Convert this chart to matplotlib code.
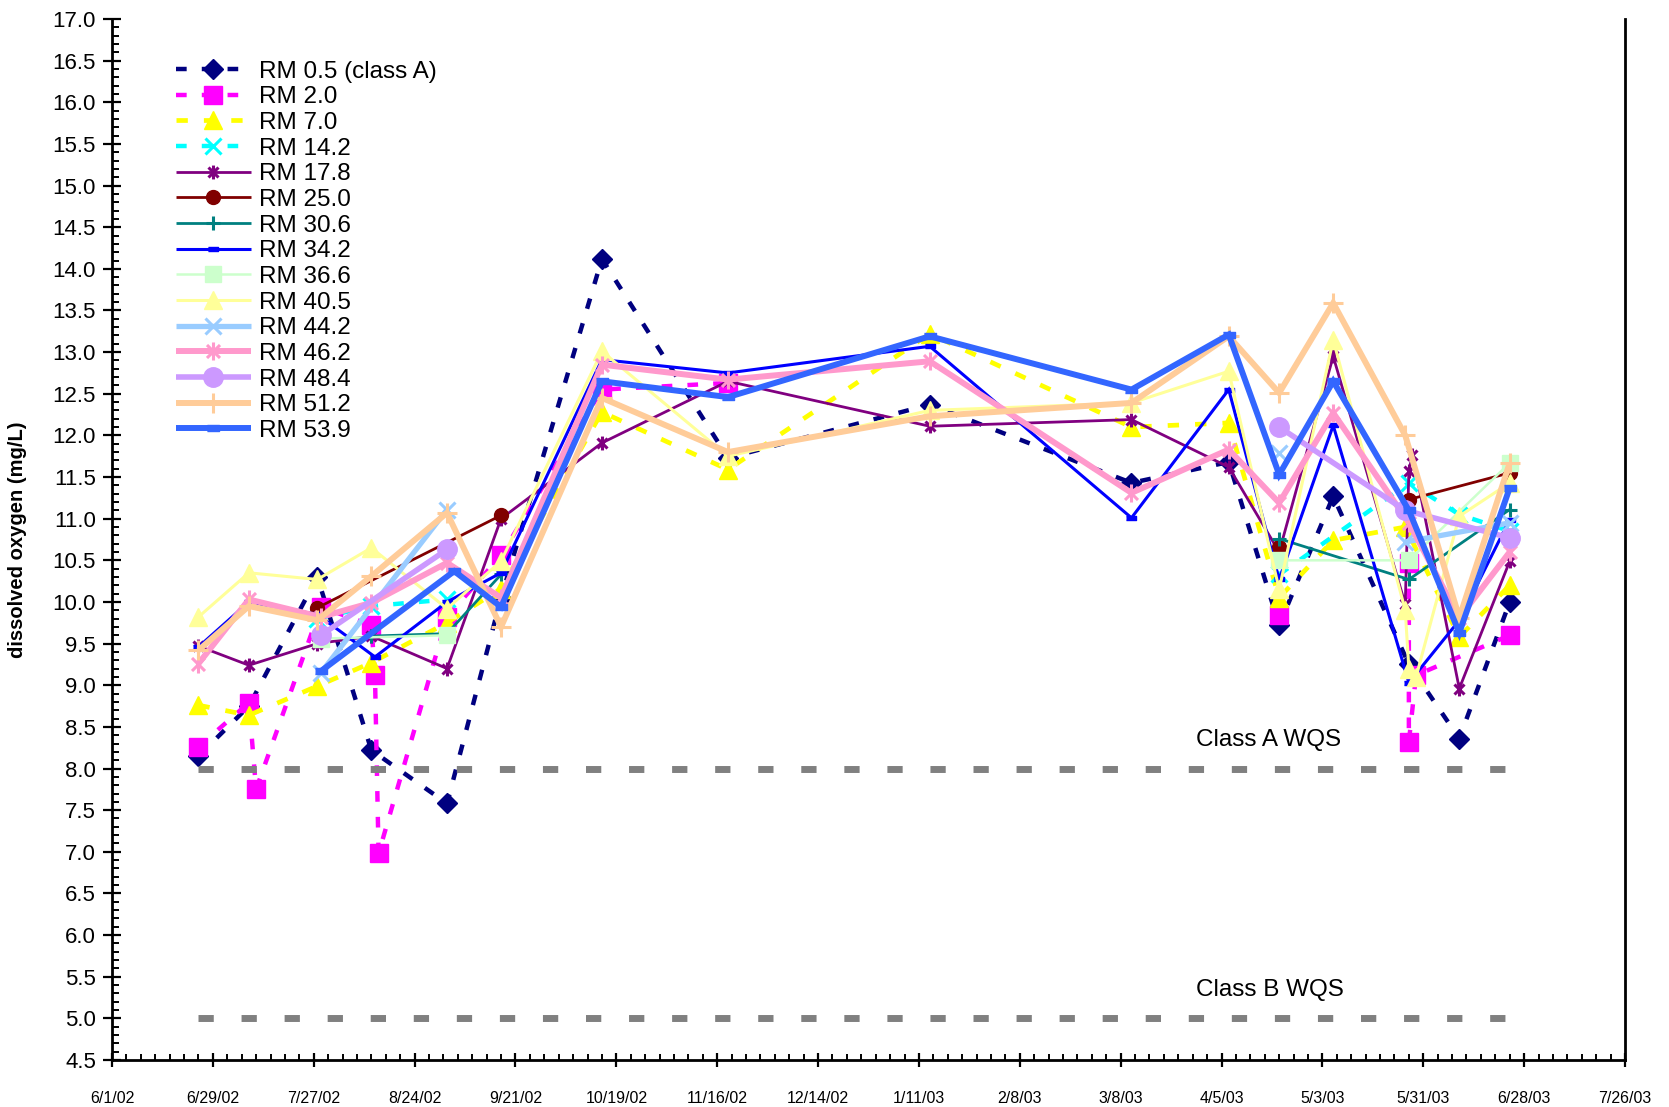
from datetime import datetime

import matplotlib
matplotlib.use("Agg")
import matplotlib.pyplot as plt
import matplotlib.dates as mdates
from matplotlib import font_manager
from matplotlib.path import Path
from matplotlib.ticker import FixedLocator, FuncFormatter, MultipleLocator
import numpy as np
import pandas as pd

# dissolved oxygen readings (mg/L) by river mile, None = no sample (line break)
rm_0_5 = [("6/25/02", 8.15), ("7/9/02", 8.75), ("7/28/02", 10.3), ("8/12/02", 8.22),
          ("9/2/02", 7.58), ("9/17/02", 10.05), ("10/15/02", 14.12), ("11/19/02", 11.73),
          ("1/14/03", 12.37), ("3/11/03", 11.43), ("4/7/03", 11.68), ("4/21/03", 9.72),
          ("5/6/03", 11.27), ("5/27/03", 9.25), ("6/10/03", 8.36), ("6/24/03", 10.0)]
rm_2_0 = [("6/25/02", 8.26), ("7/9/02", 8.79), ("7/11/02", 7.75), ("7/29/02", 9.94),
          ("8/12/02", 9.72), ("8/13/02", 9.12), ("8/14/02", 6.98), ("9/2/02", 9.82),
          ("9/17/02", 10.56), ("10/15/02", 12.55), ("11/19/02", 12.63), ("1/14/03", None),
          ("4/21/03", 9.84), ("5/6/03", None), ("5/27/03", 10.47), ("5/27/03", 8.32),
          ("5/29/03", 9.12), ("6/24/03", 9.6)]
rm_7_0 = [("6/25/02", 8.76), ("7/9/02", 8.64), ("7/28/02", 8.99), ("8/12/02", 9.27),
          ("9/2/02", 9.75), ("9/17/02", 10.16), ("10/15/02", 12.28), ("11/19/02", 11.59),
          ("1/14/03", 13.22), ("3/11/03", 12.1), ("4/7/03", 12.15), ("4/21/03", 10.05),
          ("5/6/03", 10.74), ("5/26/03", 10.9), ("6/10/03", 9.58), ("6/24/03", 10.2)]
rm_14_2 = [("7/28/02", 9.8), ("8/12/02", 9.95), ("9/2/02", 10.03), ("9/17/02", None),
           ("4/21/03", 10.33), ("5/27/03", 11.43), ("6/10/03", 11.05), ("6/24/03", 10.85)]
rm_17_8 = [("6/25/02", 9.47), ("7/9/02", 9.24), ("7/28/02", 9.5), ("8/12/02", 9.59),
           ("9/2/02", 9.2), ("9/17/02", 11.0), ("10/15/02", 11.91), ("11/19/02", 12.65),
           ("1/14/03", 12.11), ("3/11/03", 12.19), ("4/7/03", 11.62), ("4/21/03", 10.6),
           ("5/6/03", 12.95), ("5/26/03", 9.97), ("5/27/03", 11.57), ("5/28/03", 11.77),
           ("6/10/03", 8.96), ("6/24/03", 10.49)]
rm_25_0 = [("7/28/02", 9.93), ("9/17/02", 11.04), ("1/14/03", None), ("4/21/03", 10.66),
           ("5/6/03", None), ("5/27/03", 11.23), ("6/24/03", 11.55)]
rm_30_6 = [("8/12/02", 9.59), ("9/2/02", 9.62), ("9/17/02", 10.33), ("1/14/03", None),
           ("4/21/03", 10.76), ("5/27/03", 10.27), ("6/24/03", 11.11)]
rm_34_2 = [("6/25/02", 9.46), ("7/9/02", 10.0), ("7/28/02", 9.85), ("8/13/02", 9.34),
           ("9/2/02", 10.0), ("9/17/02", 10.35), ("10/15/02", 12.91), ("11/19/02", 12.75),
           ("1/14/03", 13.07), ("3/11/03", 11.01), ("4/7/03", 12.55), ("4/21/03", 10.27),
           ("5/6/03", 12.12), ("5/27/03", 9.03), ("6/10/03", 9.78), ("6/24/03", 10.99)]
rm_36_6 = [("7/29/02", 9.56), ("9/2/02", 9.6), ("1/14/03", None), ("4/21/03", 10.5),
           ("5/27/03", 10.5), ("6/24/03", 11.67)]
rm_40_5 = [("6/25/02", 9.82), ("7/9/02", 10.35), ("7/28/02", 10.27), ("8/12/02", 10.65),
           ("9/2/02", 9.92), ("9/17/02", 10.49), ("10/15/02", 13.01), ("11/19/02", 11.75),
           ("1/14/03", 12.3), ("3/11/03", 12.39), ("4/7/03", 12.77), ("4/21/03", 10.15),
           ("5/6/03", 13.15), ("5/26/03", 9.9), ("5/27/03", 9.2), ("5/29/03", 9.1),
           ("6/10/03", 11.03), ("6/24/03", 11.43)]
rm_44_2 = [("7/29/02", 9.15), ("9/2/02", 11.11), ("1/14/03", None), ("4/21/03", 11.79),
           ("5/6/03", None), ("5/26/03", 10.72), ("6/24/03", 10.95)]
rm_46_2 = [("6/25/02", 9.26), ("7/9/02", 10.03), ("7/29/02", 9.82), ("8/12/02", 9.99),
           ("9/2/02", 10.47), ("9/17/02", 10.05), ("10/15/02", 12.85), ("11/19/02", 12.67),
           ("1/14/03", 12.89), ("3/11/03", 11.31), ("4/7/03", 11.83), ("4/21/03", 11.19),
           ("5/6/03", 12.27), ("5/27/03", 10.95), ("6/10/03", 9.81), ("6/24/03", 10.6)]
rm_48_4 = [("7/29/02", 9.6), ("9/2/02", 10.63), ("1/14/03", None), ("4/21/03", 12.1),
           ("5/26/03", 11.1), ("6/24/03", 10.77)]
rm_51_2 = [("6/25/02", 9.42), ("7/9/02", 9.95), ("7/28/02", 9.78), ("8/12/02", 10.31),
           ("9/2/02", 11.07), ("9/17/02", 9.7), ("10/15/02", 12.45), ("11/19/02", 11.8),
           ("1/14/03", 12.23), ("3/11/03", 12.39), ("4/7/03", 13.19), ("4/21/03", 12.51),
           ("5/6/03", 13.59), ("5/26/03", 12.0), ("6/10/03", 9.81), ("6/24/03", 11.67)]
rm_53_9 = [("7/29/02", 9.17), ("9/4/02", 10.37), ("9/17/02", 9.94), ("10/15/02", 12.65),
           ("11/19/02", 12.46), ("1/14/03", 13.19), ("3/11/03", 12.55), ("4/7/03", 13.21),
           ("4/21/03", 11.53), ("5/6/03", 12.65), ("5/27/03", 11.1), ("6/10/03", 9.63),
           ("6/24/03", 11.37)]

# water quality standards
wqs_dates = ["6/25/02", "6/24/03"]
class_a_wqs = 8.0
class_b_wqs = 5.0

x_start, x_end = "6/1/02", "7/26/03"


def d(s):
    return datetime.strptime(s, "%m/%d/%y")


def pick_font(names, default):
    for n in names:
        try:
            font_manager.findfont(font_manager.FontProperties(family=n), fallback_to_default=False)
            return n
        except Exception:
            pass
    return default


SANS = pick_font(["Liberation Sans", "Arial"], "DejaVu Sans")
NARROW = pick_font(["Liberation Sans Narrow", "Arial Narrow"], None)
plt.rcParams["font.family"] = [SANS, "DejaVu Sans"]

# Excel-style asterisk (x with a vertical bar) and flat dash marker
ASTER = Path([(0, -1), (0, 1), (-0.72, -0.72), (0.72, 0.72), (-0.72, 0.72), (0.72, -0.72)],
             [Path.MOVETO, Path.LINETO] * 3)
DASH = [(-1, -0.45), (1, -0.45), (1, 0.45), (-1, 0.45)]

series = [
    ("RM 0.5 (class A)", rm_0_5, "#000080", 3.2, (2.4, 3.4), "D", 10, 1.0),
    ("RM 2.0", rm_2_0, "#FF00FF", 3.2, (2.4, 3.4), "s", 13, 1.0),
    ("RM 7.0", rm_7_0, "#FFFF00", 3.4, (2.4, 3.4), "^", 13, 1.0),
    ("RM 14.2", rm_14_2, "#00FFFF", 3.2, (2.4, 3.4), "x", 11, 2.2),
    ("RM 17.8", rm_17_8, "#800080", 2.0, None, ASTER, 10, 2.2),
    ("RM 25.0", rm_25_0, "#800000", 2.0, None, "o", 10, 1.0),
    ("RM 30.6", rm_30_6, "#008080", 2.0, None, "+", 10, 2.2),
    ("RM 34.2", rm_34_2, "#0000FF", 2.2, None, DASH, 7, 1.0),
    ("RM 36.6", rm_36_6, "#CCFFCC", 1.8, None, "s", 11, 1.0),
    ("RM 40.5", rm_40_5, "#FFFF99", 2.2, None, "^", 13, 1.0),
    ("RM 44.2", rm_44_2, "#99CCFF", 3.8, None, "x", 12, 2.2),
    ("RM 46.2", rm_46_2, "#FF99CC", 4.3, None, ASTER, 13, 2.2),
    ("RM 48.4", rm_48_4, "#CC99FF", 4.0, None, "o", 14, 1.0),
    ("RM 51.2", rm_51_2, "#FFCC99", 4.3, None, "+", 14, 2.2),
    ("RM 53.9", rm_53_9, "#3366FF", 4.3, None, DASH, 9, 1.0),
]

W, H = 1669, 1107
fig = plt.figure(figsize=(W / 100, H / 100), dpi=100)
ax = fig.add_axes([112 / W, (H - 1060) / H, (1625 - 112) / W, (1060 - 19) / H])

handles = []
for label, pts, color, lw, dashes, marker, ms, mew in series:
    xs = [d(s) for s, _ in pts]
    ys = [np.nan if v is None else v for _, v in pts]
    open_marker = marker in ("x", "+") or marker is ASTER
    kw = dict(color=color, lw=lw, marker=marker, ms=ms, mew=mew, mec=color,
              mfc="none" if open_marker else color, label=label,
              solid_capstyle="butt", solid_joinstyle="miter")
    if dashes:
        kw.update(ls=(0, dashes), dash_capstyle="butt")
    (h,) = ax.plot(xs, ys, **kw)
    handles.append(h)

# class A / class B standard lines
wx = [d(s) for s in wqs_dates]
for val, txt in [(class_a_wqs, "Class A WQS"), (class_b_wqs, "Class B WQS")]:
    ax.plot(wx, [val, val], color="#808080", lw=5, ls=(0, (2.2, 4.0)),
            dash_capstyle="butt", zorder=5)
    ax.text(d("3/29/03"), val + 0.34, txt, fontsize=17.5, va="center", ha="left")

ax.set_xlim(d(x_start), d(x_end))
ax.set_ylim(4.5, 17.0)

major = pd.date_range(d(x_start), d(x_end), freq="28D")
minor = pd.date_range(d(x_start), d(x_end), freq="4D")
ax.xaxis.set_major_locator(FixedLocator(mdates.date2num(major.to_pydatetime())))
ax.xaxis.set_minor_locator(FixedLocator(mdates.date2num(minor.to_pydatetime())))


def fmt_date(v, _):
    t = mdates.num2date(v)
    return f"{t.month}/{t.day}/{t:%y}"


ax.xaxis.set_major_formatter(FuncFormatter(fmt_date))
ax.yaxis.set_major_locator(MultipleLocator(0.5))
ax.yaxis.set_minor_locator(MultipleLocator(0.1))
ax.yaxis.set_major_formatter(FuncFormatter(lambda v, _: f"{v:.1f}"))

ax.spines["top"].set_visible(False)
for sp in ("left", "bottom", "right"):
    ax.spines[sp].set_linewidth(2.0)
    ax.spines[sp].set_color("black")

# x dates are set in a condensed face when one is available
x_size = 13 if NARROW else 11.5
ax.tick_params(axis="y", which="major", direction="inout", length=13, width=1.6,
               pad=5, labelsize=16)
ax.tick_params(axis="y", which="minor", direction="in", length=5, width=1.4)
ax.tick_params(axis="x", which="major", direction="inout", length=10, width=1.6,
               pad=17, labelsize=x_size)
ax.tick_params(axis="x", which="minor", direction="in", length=4, width=1.4)
if NARROW:
    for t in ax.get_xticklabels():
        t.set_fontfamily(NARROW)
ax.tick_params(right=False, which="both")

ax.set_ylabel("dissolved oxygen (mg/L)", fontsize=14.5, fontweight="bold", labelpad=12)
ax.yaxis.set_label_coords(-0.056, 0.5)

ax.legend(handles=handles, loc="upper left", bbox_to_anchor=(0.042, 0.96),
          frameon=False, fontsize=17.5, labelspacing=0.15, handlelength=3.1,
          handletextpad=0.35, borderpad=0, borderaxespad=0)

fig.savefig("out.png", dpi=100)
